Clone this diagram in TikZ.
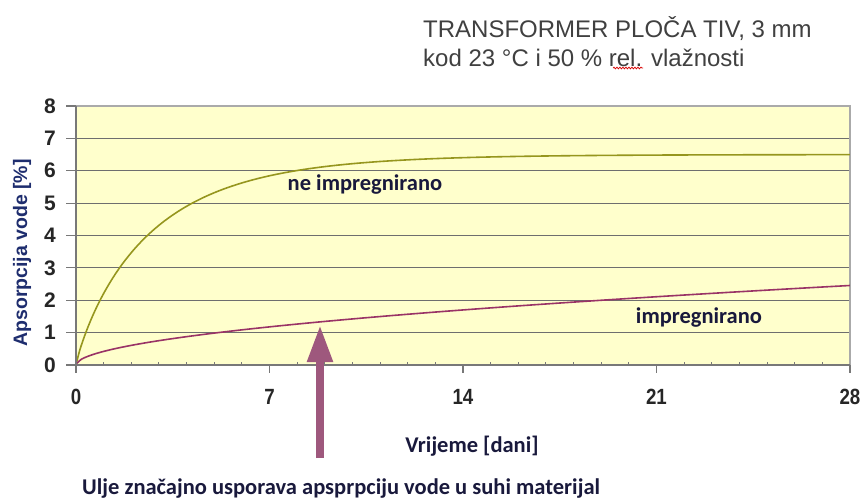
\documentclass[tikz,border=0pt]{standalone}
\usepackage{fontspec}
\setmainfont{Liberation Sans}
\newfontfamily\calib{Carlito}
\usetikzlibrary{arrows.meta,decorations.pathmorphing}
\definecolor{plotbg}{RGB}{255,255,204}
\definecolor{gridc}{RGB}{110,110,110}
\definecolor{framec}{RGB}{170,170,170}
\definecolor{axisc}{RGB}{120,120,120}
\definecolor{olivec}{RGB}{150,150,30}
\definecolor{plumc}{RGB}{153,51,102}
\definecolor{arrowc}{RGB}{158,88,125}
\definecolor{titlec}{RGB}{64,64,64}
\definecolor{navyc}{RGB}{25,25,60}
\definecolor{ylabc}{RGB}{30,45,110}
\tikzset{
  titletext/.style={font=\fontsize{24}{28}\selectfont, text=titlec, anchor=west, inner sep=0pt},
  ytick/.style={font=\bfseries\fontsize{21}{24}\selectfont, text=black!85, inner sep=0pt},
  xtick/.style={font=\bfseries\fontsize{22}{26}\selectfont, text=black!85, inner sep=0pt, xscale=0.85},
  lbl/.style={font=\calib\bfseries\fontsize{22.5}{26}\selectfont, text=navyc, inner sep=0pt},
  gridline/.style={draw=gridc, line width=1.2pt},
  curveA/.style={draw=olivec, line width=1.6pt, line join=round},
  curveB/.style={draw=plumc, line width=1.6pt, line join=round},
  bigarrow/.style={draw=arrowc, line width=8pt, -{Triangle[width=24pt,length=37pt]}},
}
\begin{document}
\begin{tikzpicture}[x=1pt,y=-1pt]
\useasboundingbox (0,0) rectangle (864,501);
% title
\node[titletext] (t1) at (423,29) {TRANSFORMER PLOČA TIV, 3 mm};
\node[titletext] (t2) at (423,58) {kod 23 °C i 50 \% rel. vlažnosti};
\draw[red!85!black, line width=0.7pt, decorate, decoration={snake, amplitude=0.9pt, segment length=3pt}] (613,68) -- (643,68);
% plot
\begin{scope}[shift={(76,365)}, x=27.64pt, y=32.375pt]
  \fill[plotbg] (0,0) rectangle (28,8);
  \foreach \v in {1,...,7} \draw[gridline] (0,\v) -- (28,\v);
  \draw[framec, line width=1.2pt] (0,8) -- (28,8) -- (28,0);
  % curves
  \draw[curveA] (0,0) -- plot[domain=0.01:28, samples=220, smooth] (\x,{6.5*(1-exp(-0.4155*(\x)^0.878))});
  \draw[curveB] (0,0) -- plot[domain=0.01:28, samples=160, smooth] (\x,{0.42*(\x)^0.53});
  % axes
  \draw[axisc, line width=1.2pt] (0,8) -- (0,0) -- (28,0);
  \foreach \v in {0,...,8} {
    \draw[axisc, line width=1.2pt] (0,\v) -- ++(-10pt,0);
    \node[ytick] (y\v) at ([xshift=-26pt]0,\v) {\v};
  }
  \foreach \d in {1,...,27} {
    \pgfmathtruncatemacro\m{mod(\d,7)}
    \ifnum\m=0\relax\else
      \draw[axisc, line width=1pt] (\d,0) -- ++(0,3.5pt);
    \fi
  }
  \foreach \d in {0,7,14,21,28} {
    \draw[axisc, line width=1.2pt] (\d,0) -- ++(0,-8pt);
    \node[xtick] (x\d) at ([yshift=-32pt]\d,0) {\d};
  }
\end{scope}
% labels
\node[lbl] (ne) at (365,185) {ne impregnirano};
\node[lbl] (im) at (699,318) {impregnirano};
\node[lbl] (xl) at (472,446) {Vrijeme [dani]};
\node[lbl, anchor=west] (note) at (82,488) {Ulje značajno usporava apsprpciju vode u suhi materijal};
\node[font=\bfseries\fontsize{19.5}{22}\selectfont, text=ylabc, rotate=90, inner sep=0pt] (yl) at (22,253) {Apsorpcija vode [\%]};
% arrow
\coordinate (atail) at (320,458);
\coordinate (ahead) at (320,325);
\draw[bigarrow] (atail) -- (ahead);
\end{tikzpicture}
\end{document}
